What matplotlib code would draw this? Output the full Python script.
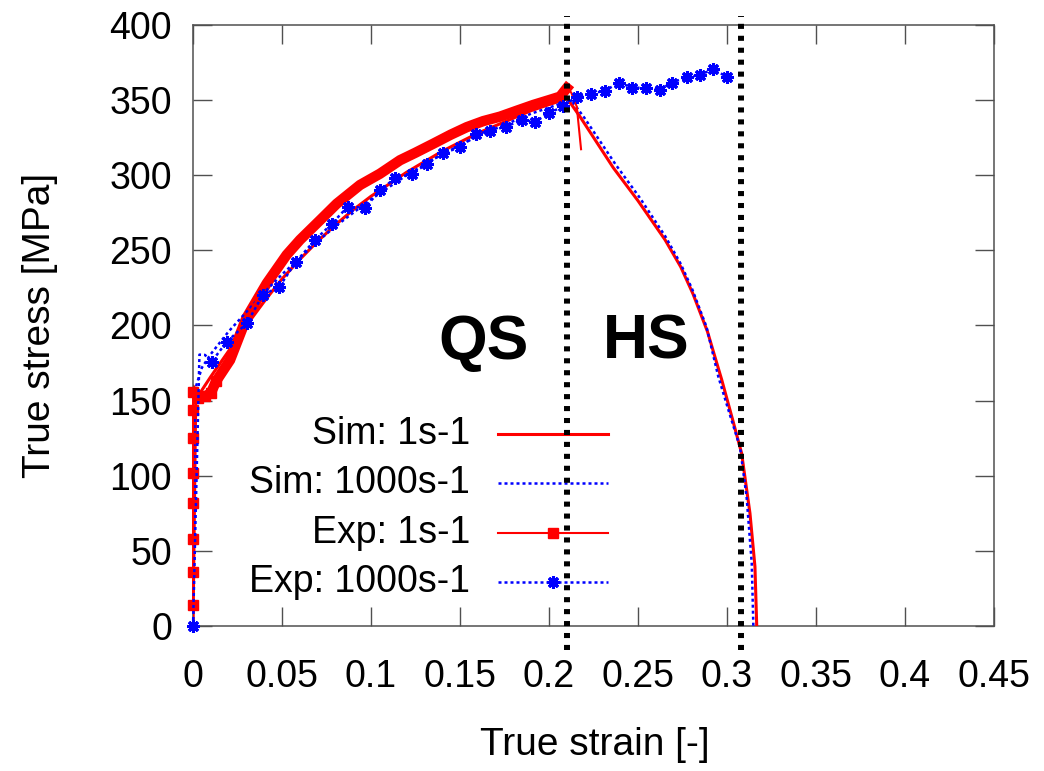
import numpy as np
import matplotlib
matplotlib.use("Agg")
import matplotlib.pyplot as plt
from matplotlib.lines import Line2D

plt.rcParams['font.family'] = ['Liberation Sans', 'DejaVu Sans']

# Simulation, strain rate 1 s^-1
sim1_x = [0, 0.0015, 0.005, 0.01, 0.02, 0.03, 0.04, 0.05, 0.06, 0.07, 0.08, 0.09, 0.10,
          0.11, 0.12, 0.13, 0.14, 0.15, 0.16, 0.17, 0.18, 0.19, 0.20, 0.2103,
          0.2174, 0.2361, 0.25, 0.2652, 0.274, 0.2809, 0.289, 0.297, 0.303, 0.3082,
          0.3129, 0.3157, 0.3167]
sim1_y = [0, 150, 157, 166, 183, 200, 216, 231, 244, 256, 267, 277, 286,
          294, 302, 309, 316, 322, 328, 333, 338, 343, 347, 351,
          339, 305, 283, 257, 239, 221, 196, 164, 138, 115,
          75, 39.5, 0]

# Simulation, strain rate 1000 s^-1
sim1000_x = [0, 0.001, 0.005, 0.01, 0.02, 0.03, 0.04, 0.05, 0.06, 0.07, 0.08, 0.09, 0.10,
             0.11, 0.12, 0.13, 0.14, 0.15, 0.16, 0.17, 0.18, 0.19, 0.20, 0.2125,
             0.22, 0.2375, 0.251, 0.2655, 0.274, 0.2805, 0.2885, 0.2951, 0.3015, 0.3073,
             0.311, 0.3139, 0.3148]
sim1000_y = [0, 157, 172, 181, 196, 209, 222, 234, 245, 256, 266, 275, 284,
             292, 300, 307, 314, 320, 326, 331, 336, 341, 345, 350,
             338, 307, 285, 259, 241, 224, 199, 166, 141, 119,
             86, 41.7, 0]

# Experiment, strain rate 1 s^-1
exp1_x = [0, 0, 0, 0, 0, 0, 0, 0, 0.003, 0.007, 0.01, 0.013, 0.0208, 0.030, 0.0414,
          0.0526, 0.0601, 0.0713, 0.0807, 0.0938, 0.105, 0.1163, 0.125, 0.135, 0.1448,
          0.1538, 0.163, 0.1725, 0.182, 0.1912, 0.2, 0.2062, 0.21, 0.2125, 0.2156, 0.218]
exp1_y = [14, 36, 58, 82, 102, 125, 144, 156, 152, 153, 155, 163, 177, 205, 228,
          247, 257, 270, 281, 293.5, 301, 310, 315, 321, 327,
          332, 336, 339, 343, 346.8, 350, 352.3, 358, 355, 345.6, 317.3]

# Experiment, strain rate 1000 s^-1
exp1000_x = [0, 0.0036, 0.0067, 0.0105, 0.019, 0.0302, 0.0392, 0.0485, 0.0579, 0.0685,
             0.0779, 0.0869, 0.0966, 0.1051, 0.1135, 0.1229, 0.1313, 0.1403, 0.15,
             0.159, 0.1669, 0.1758, 0.1846, 0.1921, 0.2, 0.208, 0.2156, 0.2236,
             0.2315, 0.2395, 0.2465, 0.2543, 0.2624, 0.2689, 0.2777, 0.2848, 0.2923, 0.3002]
exp1000_y = [0, 180.6, 180.4, 176, 189.2, 201.4, 220.3, 225.8, 242.5, 256.9,
             267.6, 279.1, 278.4, 289.9, 298.1, 300.8, 307.5, 314.6, 318.6,
             327.2, 329.7, 332.3, 336.8, 335.6, 341.2, 346, 352.3, 354.3,
             356.3, 361.7, 358.3, 358.1, 356.9, 361.7, 365.2, 366.7, 370.7, 365.2]

# QS / HS boundaries
boundaries = [0.21, 0.308]
legend_labels = ["Sim: 1s-1", "Sim: 1000s-1", "Exp: 1s-1", "Exp: 1000s-1"]

RED = '#ff0000'
BLUE = '#0000ff'
blue_dots = (0, (1.2, 1.2))
star = (8, 2, 0)

fig = plt.figure(figsize=(10.44, 7.71), dpi=100)
ax = fig.add_axes([0.1849, 0.1881, 0.7672, 0.7795])

ax.plot(sim1_x, sim1_y, color=RED, lw=2.2, zorder=3)
ax.plot(sim1000_x, sim1000_y, color=BLUE, lw=1.8, linestyle=blue_dots, zorder=3)
# thick noisy band of the 1 s^-1 test
ax.plot(exp1_x[7:-3], exp1_y[7:-3], color=RED, lw=7.5, solid_joinstyle='miter', zorder=2)
ax.plot(exp1_x, exp1_y, color=RED, lw=1.5, marker='s', markersize=7,
        markevery=list(range(12)), zorder=4, clip_on=False)
star_idx = [0] + list(range(3, len(exp1000_x)))
ax.plot(exp1000_x, exp1000_y, color=BLUE, lw=1.8, linestyle=blue_dots,
        marker=star, markersize=9, markeredgewidth=2.2, markeredgecolor=BLUE,
        markevery=star_idx, zorder=5, clip_on=False)

for b in boundaries:
    ax.axvline(b, ymin=-0.04, ymax=1.015, color='black', lw=4.3,
               linestyle=(0, (0.85, 1.15)), dash_capstyle='butt', clip_on=False, zorder=10)

ax.text(0.1635, 189, "QS", fontsize=45, fontweight='bold', ha='center', va='center')
ax.text(0.2545, 189, "HS", fontsize=45, fontweight='bold', ha='center', va='center')

# gnuplot style key: text right-aligned, sample to the right
styles = [dict(color=RED, lw=2.2),
          dict(color=BLUE, lw=1.8, linestyle=blue_dots),
          dict(color=RED, lw=1.5, marker='s', markersize=7, markevery=[1]),
          dict(color=BLUE, lw=1.8, linestyle=blue_dots, marker=star, markersize=9,
               markeredgewidth=2.2, markevery=[1])]
rows = [0.319, 0.2384, 0.1542, 0.0727]
for label, st, yr in zip(legend_labels, styles, rows):
    ax.text(0.3458, yr, label, transform=ax.transAxes, fontsize=27, ha='right', va='center')
    ax.add_line(Line2D([0.3808, 0.4494, 0.5181], [yr, yr, yr], transform=ax.transAxes, **st))

ax.set_xlim(0, 0.45)
ax.set_ylim(0, 400)
xt = np.arange(0, 0.451, 0.05)
ax.set_xticks(xt)
ax.set_xticklabels(["%g" % round(v, 2) for v in xt])
ax.set_yticks(np.arange(0, 401, 50))
ax.tick_params(direction='in', length=14, width=1, color='#505050', labelsize=27,
               top=True, right=True)
ax.tick_params(axis='x', pad=24)
ax.tick_params(axis='y', pad=15)
for s in ax.spines.values():
    s.set_color('#505050')
    s.set_linewidth(1.1)

ax.set_xlabel("True strain [-]", fontsize=28, va='center')
ax.set_ylabel("True stress [MPa]", fontsize=28, va='center')
ax.xaxis.set_label_coords(0.502, -0.198)
ax.yaxis.set_label_coords(-0.191, 0.5008)

fig.savefig("out.png", dpi=100)
